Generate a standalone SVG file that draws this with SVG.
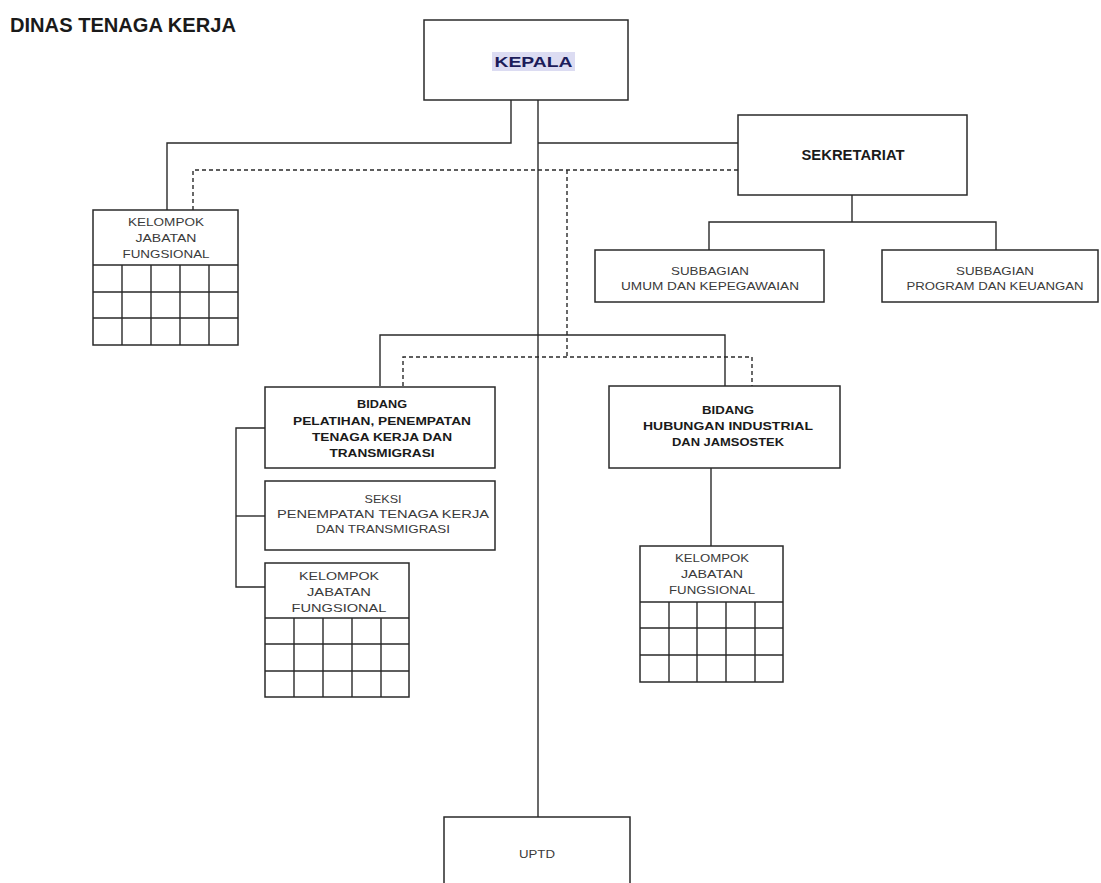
<svg xmlns="http://www.w3.org/2000/svg" width="1101" height="883" viewBox="0 0 1101 883">
<style>
.box{fill:#fff;stroke:#2a2a2a;stroke-width:1.5}
.ln{fill:none;stroke:#2a2a2a;stroke-width:1.4}
.ds{fill:none;stroke:#2a2a2a;stroke-width:1.4;stroke-dasharray:4,3}
.t{font-family:"Liberation Sans",Arial,sans-serif;font-size:11px;fill:#3a3a3a;text-anchor:middle}
.b{font-family:"Liberation Sans",Arial,sans-serif;font-size:11px;font-weight:bold;fill:#1a1a1a;text-anchor:middle}
</style>
<rect width="1101" height="883" fill="#fff"/>
<text x="10" y="32" font-family="Liberation Sans,Arial,sans-serif" font-size="20" font-weight="bold" fill="#1a1a1a" textLength="226" lengthAdjust="spacingAndGlyphs">DINAS TENAGA KERJA</text>

<g id="connectors">
<polyline class="ln" points="511,100 511,143 167,143 167,210"/>
<line class="ln" x1="538" y1="100" x2="538" y2="817"/>
<line class="ln" x1="538" y1="143" x2="738" y2="143"/>
<polyline class="ds" points="193,210 193,170 738,170"/>
<polyline class="ds" points="567,170 567,357"/>
<polyline class="ds" points="403,386 403,357 752,357 752,386"/>
<polyline class="ln" points="380,386 380,335 725,335 725,386"/>
<line class="ln" x1="852" y1="195" x2="852" y2="222"/>
<polyline class="ln" points="709,250 709,222 996,222 996,250"/>
<polyline class="ln" points="265,428 236,428 236,587 265,587"/>
<line class="ln" x1="236" y1="516" x2="265" y2="516"/>
<line class="ln" x1="711" y1="467" x2="711" y2="546"/>
</g>

<g id="kepala">
<rect class="box" x="424" y="20" width="204" height="80"/>
<rect x="492" y="52" width="83" height="19" fill="#dcdcf2"/>
<text x="533.5" y="67" font-family="Liberation Sans,Arial,sans-serif" font-size="14" font-weight="bold" fill="#1c1c5a" text-anchor="middle" textLength="78" lengthAdjust="spacingAndGlyphs">KEPALA</text>
</g>

<g id="kjf1">
<rect class="box" x="93" y="210" width="145" height="135"/>
<path class="ln" d="M93,265H238M93,292H238M93,318H238M122,265V345M151,265V345M180,265V345M209,265V345"/>
<text class="t" x="166" y="226" textLength="76" lengthAdjust="spacingAndGlyphs">KELOMPOK</text>
<text class="t" x="166" y="242" textLength="61" lengthAdjust="spacingAndGlyphs">JABATAN</text>
<text class="t" x="166" y="258" textLength="87" lengthAdjust="spacingAndGlyphs">FUNGSIONAL</text>
</g>

<g id="sekretariat">
<rect class="box" x="738" y="115" width="229" height="80"/>
<text x="853" y="160" font-family="Liberation Sans,Arial,sans-serif" font-size="14" font-weight="bold" fill="#1a1a1a" text-anchor="middle" textLength="103" lengthAdjust="spacingAndGlyphs">SEKRETARIAT</text>
</g>

<g id="subbagian-umum">
<rect class="box" x="595" y="250" width="229" height="52"/>
<text class="t" x="710" y="275" textLength="78" lengthAdjust="spacingAndGlyphs">SUBBAGIAN</text>
<text class="t" x="710" y="290" textLength="178" lengthAdjust="spacingAndGlyphs">UMUM DAN KEPEGAWAIAN</text>
</g>

<g id="subbagian-program">
<rect class="box" x="882" y="250" width="216" height="52"/>
<text class="t" x="995" y="275" textLength="78" lengthAdjust="spacingAndGlyphs">SUBBAGIAN</text>
<text class="t" x="995" y="290" textLength="177" lengthAdjust="spacingAndGlyphs">PROGRAM DAN KEUANGAN</text>
</g>

<g id="bidang-pelatihan">
<rect class="box" x="265" y="387" width="230" height="81"/>
<text class="b" x="382" y="408" textLength="50" lengthAdjust="spacingAndGlyphs">BIDANG</text>
<text class="b" x="382" y="425" textLength="178" lengthAdjust="spacingAndGlyphs">PELATIHAN, PENEMPATAN</text>
<text class="b" x="382" y="441" textLength="140" lengthAdjust="spacingAndGlyphs">TENAGA KERJA DAN</text>
<text class="b" x="382" y="457" textLength="105" lengthAdjust="spacingAndGlyphs">TRANSMIGRASI</text>
</g>

<g id="seksi">
<rect class="box" x="265" y="481" width="230" height="69"/>
<text class="t" x="383" y="503" textLength="37" lengthAdjust="spacingAndGlyphs">SEKSI</text>
<text class="t" x="383" y="518" textLength="212" lengthAdjust="spacingAndGlyphs">PENEMPATAN TENAGA KERJA</text>
<text class="t" x="383" y="533" textLength="134" lengthAdjust="spacingAndGlyphs">DAN TRANSMIGRASI</text>
</g>

<g id="kjf2">
<rect class="box" x="265" y="563" width="144" height="134"/>
<path class="ln" d="M265,618H409M265,644H409M265,671H409M294,618V697M323,618V697M352,618V697M381,618V697"/>
<text class="t" x="339" y="580" textLength="80" lengthAdjust="spacingAndGlyphs">KELOMPOK</text>
<text class="t" x="339" y="596" textLength="64" lengthAdjust="spacingAndGlyphs">JABATAN</text>
<text class="t" x="339" y="612" textLength="95" lengthAdjust="spacingAndGlyphs">FUNGSIONAL</text>
</g>

<g id="bidang-hubungan">
<rect class="box" x="609" y="386" width="231" height="82"/>
<text class="b" x="728" y="414" textLength="52" lengthAdjust="spacingAndGlyphs">BIDANG</text>
<text class="b" x="728" y="430" textLength="170" lengthAdjust="spacingAndGlyphs">HUBUNGAN INDUSTRIAL</text>
<text class="b" x="728" y="446" textLength="112" lengthAdjust="spacingAndGlyphs">DAN JAMSOSTEK</text>
</g>

<g id="kjf3">
<rect class="box" x="640" y="546" width="143" height="136"/>
<path class="ln" d="M640,602H783M640,628H783M640,655H783M669,602V682M697,602V682M726,602V682M755,602V682"/>
<text class="t" x="712" y="562" textLength="74" lengthAdjust="spacingAndGlyphs">KELOMPOK</text>
<text class="t" x="712" y="578" textLength="62" lengthAdjust="spacingAndGlyphs">JABATAN</text>
<text class="t" x="712" y="594" textLength="86" lengthAdjust="spacingAndGlyphs">FUNGSIONAL</text>
</g>

<g id="uptd">
<rect class="box" x="444" y="817" width="186" height="70"/>
<text class="t" x="537" y="858" textLength="36" lengthAdjust="spacingAndGlyphs">UPTD</text>
</g>
</svg>
